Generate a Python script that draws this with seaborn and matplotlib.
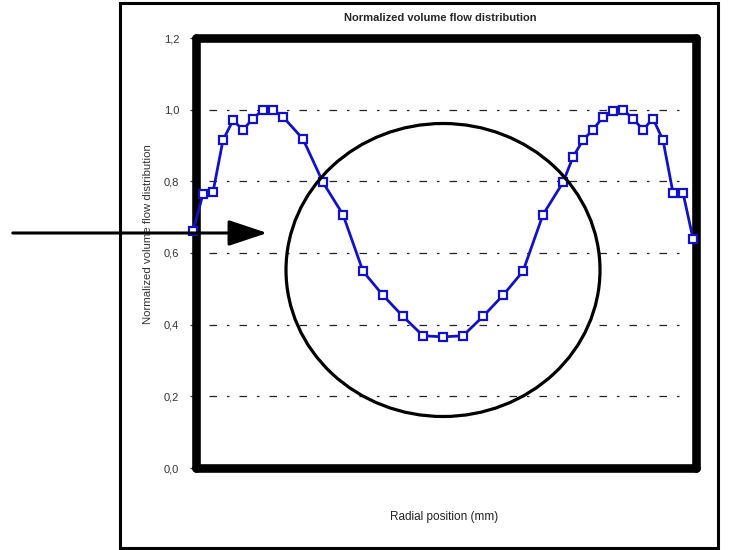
import numpy as np
import pandas as pd
import matplotlib
matplotlib.use('Agg')
import matplotlib.pyplot as plt
from matplotlib.patches import Rectangle, Ellipse, FancyArrowPatch
import seaborn as sns

sns.set_style('white')
plt.rcParams['font.family'] = ['Liberation Sans', 'DejaVu Sans']

# Data
radial_mm = [-25, -24, -23, -22, -21, -20, -19, -18, -17, -16, -14, -12, -10, -8, -6, -4, -2, 0,
             2, 4, 6, 8, 10, 12, 13, 14, 15, 16, 17, 18, 19, 20, 21, 22, 23, 24, 25]
flow_norm = [0.66, 0.765, 0.77, 0.915, 0.97, 0.944, 0.975, 1.0, 1.0, 0.98, 0.918, 0.797, 0.707,
             0.549, 0.482, 0.423, 0.369, 0.366, 0.369, 0.423, 0.482, 0.549, 0.707, 0.797, 0.868,
             0.915, 0.944, 0.98, 0.996, 1.0, 0.975, 0.944, 0.975, 0.915, 0.768, 0.768, 0.64]
y_ticks = [0.0, 0.2, 0.4, 0.6, 0.8, 1.0, 1.2]
y_tick_labels = ['0,0', '0,2', '0,4', '0,6', '0,8', '1,0', '1,2']

df = pd.DataFrame({'radial': radial_mm, 'flow': flow_norm})

W, H = 754, 550
fig = plt.figure(figsize=(W / 100, H / 100), dpi=100)
ax = fig.add_axes([196 / W, 1 - 468 / H, 500 / W, 430 / H])

blue = '#1212c4'
sns.lineplot(data=df, x='radial', y='flow', ax=ax, color=blue, linewidth=2.0,
             marker='s', markersize=5.5, markerfacecolor='white', markeredgecolor=blue,
             markeredgewidth=1.6, zorder=5, clip_on=False)

ax.set_xlim(-24.7, 25.3)
ax.set_ylim(0, 1.2)
ax.set_yticks(y_ticks)
ax.set_yticklabels(y_tick_labels, fontsize=8, color='#333333')
ax.set_xticks([])
ax.set_xlabel('')
ax.set_ylabel('')
ax.tick_params(axis='y', length=4, width=1, color='#444444', pad=8, left=True)

# dash-dot horizontal grid
for yv in y_ticks[1:-1]:
    ax.axhline(yv, xmin=0.025, xmax=0.985, color='#222222', lw=0.9,
               linestyle=(0, (6, 8, 2, 8)), zorder=1)

for s in ax.spines.values():
    s.set_linewidth(6.2)
    s.set_color('black')
    s.set_capstyle('round')
    s.set_zorder(2)

# texts
fig.text(440 / W, 1 - 18 / H, 'Normalized volume flow distribution', ha='center', va='center',
         fontsize=8, fontweight='bold')
fig.text(444 / W, 1 - 517 / H, 'Radial position (mm)', ha='center', va='center',
         fontsize=8.5, color='#222222')
fig.text(148 / W, 1 - 234 / H, 'Normalized volume flow distribution', ha='center', va='center',
         rotation=90, fontsize=8.2, color='#333333')

# outer frame
fig.patches.append(Rectangle((120 / W, 2 / H), 598 / W, 545 / H, transform=fig.transFigure,
                             fill=False, edgecolor='black', linewidth=2.2, zorder=0))

# circle annotation
fig.patches.append(Ellipse((443 / W, 1 - 270 / H), 314 / W, 293 / H, transform=fig.transFigure,
                           fill=False, edgecolor='black', linewidth=2.3, zorder=10))

# arrow
arrow = FancyArrowPatch((10 / W, 1 - 233 / H), (270 / W, 1 - 233 / H), transform=fig.transFigure,
                        arrowstyle='-|>,head_length=24,head_width=8', mutation_scale=1,
                        color='black', linewidth=2.2, zorder=10)
fig.patches.append(arrow)

fig.savefig('out.png', dpi=100)
